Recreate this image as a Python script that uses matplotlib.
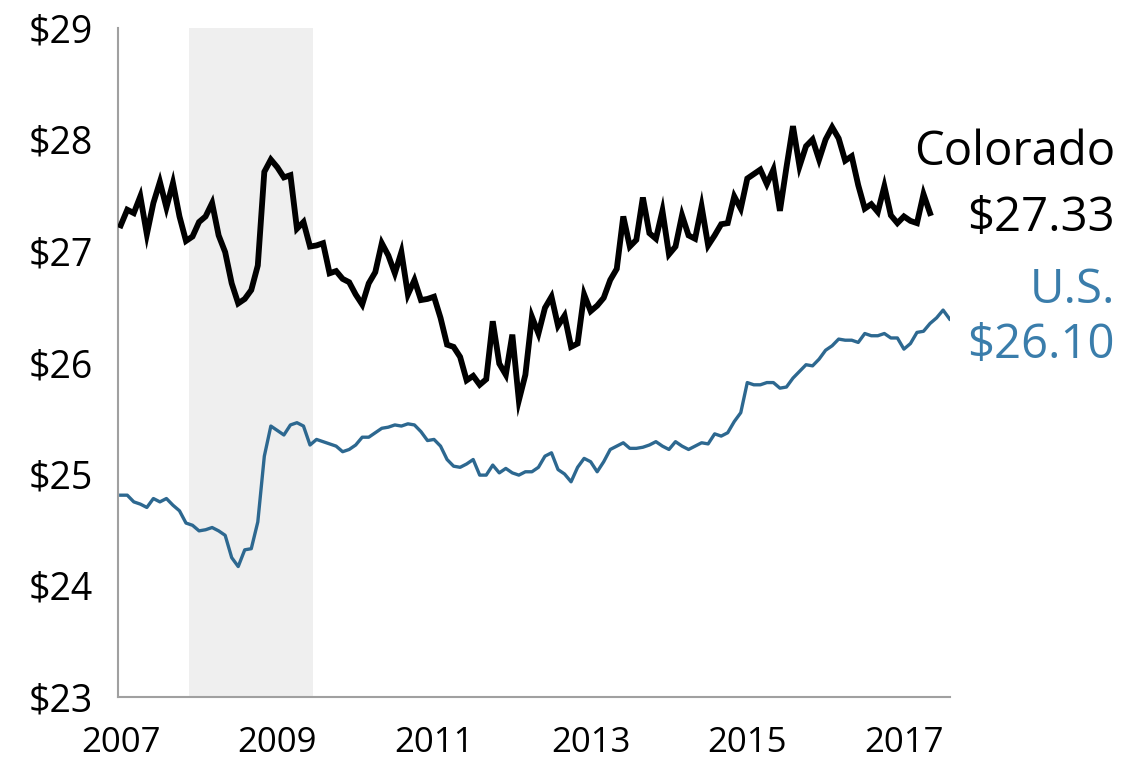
import matplotlib
matplotlib.use("Agg")
import matplotlib.pyplot as plt
import numpy as np

plt.rcParams['font.family'] = ['Open Sans', 'DejaVu Sans']

# Monthly series, starting Jan 2007
colorado = [27.23, 27.37, 27.34, 27.49, 27.15, 27.43, 27.62, 27.39, 27.61, 27.31,
            27.09, 27.13, 27.26, 27.31, 27.43, 27.14, 26.99, 26.71, 26.53, 26.57,
            26.65, 26.87, 27.71, 27.82, 27.75, 27.66, 27.68, 27.20, 27.26, 27.04,
            27.05, 27.07, 26.80, 26.82, 26.75, 26.72, 26.61, 26.52, 26.71, 26.81,
            27.07, 26.96, 26.80, 26.99, 26.61, 26.74, 26.56, 26.57, 26.59, 26.40,
            26.16, 26.14, 26.05, 25.84, 25.88, 25.80, 25.85, 26.37, 25.99, 25.89,
            26.25, 25.66, 25.89, 26.41, 26.26, 26.49, 26.59, 26.33, 26.42, 26.14,
            26.17, 26.61, 26.46, 26.51, 26.58, 26.74, 26.84, 27.31, 27.04, 27.10,
            27.48, 27.16, 27.11, 27.36, 26.97, 27.04, 27.32, 27.14, 27.11, 27.40,
            27.05, 27.14, 27.24, 27.25, 27.49, 27.38, 27.65, 27.69, 27.73, 27.60,
            27.73, 27.36, 27.75, 28.12, 27.76, 27.94, 28.00, 27.82, 28.00, 28.11,
            28.01, 27.81, 27.85, 27.59, 27.38, 27.42, 27.35, 27.58, 27.32, 27.25,
            27.31, 27.27, 27.25, 27.51, 27.34]

us = [24.81, 24.81, 24.75, 24.73, 24.70, 24.78, 24.75, 24.78, 24.72, 24.67,
      24.56, 24.54, 24.49, 24.50, 24.52, 24.49, 24.45, 24.25, 24.17, 24.32,
      24.33, 24.57, 25.16, 25.43, 25.39, 25.35, 25.44, 25.46, 25.43, 25.26,
      25.31, 25.29, 25.27, 25.25, 25.20, 25.22, 25.26, 25.33, 25.33, 25.37,
      25.41, 25.42, 25.44, 25.43, 25.45, 25.44, 25.38, 25.30, 25.31, 25.25,
      25.13, 25.07, 25.06, 25.09, 25.13, 24.99, 24.99, 25.08, 25.01, 25.05,
      25.01, 24.99, 25.02, 25.02, 25.06, 25.16, 25.19, 25.04, 25.00, 24.93,
      25.06, 25.14, 25.11, 25.02, 25.11, 25.22, 25.25, 25.28, 25.23, 25.23,
      25.24, 25.26, 25.29, 25.25, 25.22, 25.29, 25.25, 25.22, 25.25, 25.28,
      25.27, 25.36, 25.34, 25.37, 25.47, 25.55, 25.82, 25.80, 25.80, 25.82,
      25.82, 25.77, 25.78, 25.86, 25.92, 25.98, 25.97, 26.03, 26.11, 26.15,
      26.21, 26.20, 26.20, 26.18, 26.26, 26.24, 26.24, 26.26, 26.22, 26.22,
      26.12, 26.17, 26.27, 26.28, 26.35, 26.40, 26.47, 26.39]

year_ticks = [2007, 2009, 2011, 2013, 2015, 2017]
y_ticks = [23, 24, 25, 26, 27, 28, 29]
recession = (2007 + 10.5 / 12, 2009 + 5.5 / 12)

t_co = 2007 + np.arange(len(colorado)) / 12
t_us = 2007 + np.arange(len(us)) / 12

fig = plt.figure(figsize=(11.22, 7.63), dpi=100)
ax = fig.add_axes([118 / 1122, 1 - 697 / 763, (950 - 118) / 1122, (697 - 28) / 763])

ax.axvspan(recession[0], recession[1], color='#efefef', zorder=0, lw=0)
ax.plot(t_us, us, color='#2d6890', lw=2.4, zorder=2)
ax.plot(t_co, colorado, color='black', lw=4.2, zorder=3, solid_joinstyle='miter')

ax.set_ylim(23, 29)
ax.set_xlim(2007 - 0.035, 2007 + 127 / 12 + 0.005)
ax.set_yticks(y_ticks)
ax.set_yticklabels([f"${v}" for v in y_ticks])
ax.set_xticks(year_ticks)
ax.set_xticklabels([str(y) for y in year_ticks])
ax.tick_params(axis='both', length=0, colors='black')
ax.tick_params(axis='y', pad=18, labelsize=27)
ax.tick_params(axis='x', pad=21, labelsize=25)

for s in ['top', 'right']:
    ax.spines[s].set_visible(False)
for s in ['left', 'bottom']:
    ax.spines[s].set_color('#a0a0a0')
    ax.spines[s].set_linewidth(1.5)

fig.text(1115 / 1122, 1 - 152 / 763, "Colorado", ha='right', va='center', fontsize=34, color='black')
fig.text(1115 / 1122, 1 - 218 / 763, "$27.33", ha='right', va='center', fontsize=34, color='black')
fig.text(1115 / 1122, 1 - 290 / 763, "U.S.", ha='right', va='center', fontsize=34, color='#3a7dab')
fig.text(1115 / 1122, 1 - 345 / 763, "$26.10", ha='right', va='center', fontsize=34, color='#3a7dab')

fig.savefig("out.png", dpi=100)
